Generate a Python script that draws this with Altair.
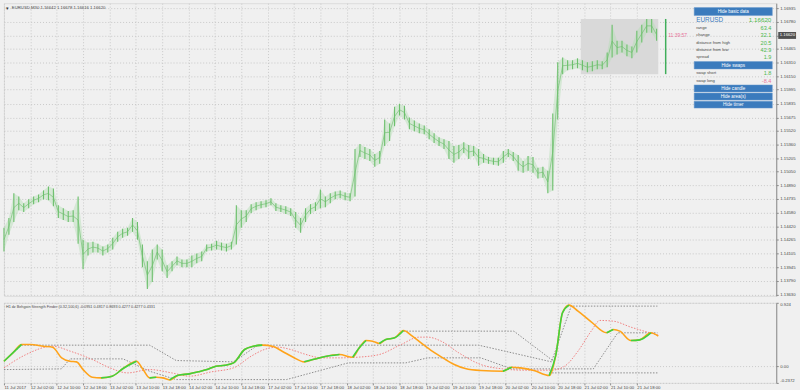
import altair as alt
import pandas as pd

# ---------------- price data (EURUSD M30, every 3rd bar) ----------------
bar_index = list(range(0, 397, 3))
high = [
    1.14402, 1.14516, 1.14800, 1.14765, 1.14686, 1.14731, 1.14765, 1.14788, 1.14834, 1.14879,
    1.14856, 1.14663, 1.14629, 1.14595, 1.14606, 1.14765, 1.14266, 1.14232, 1.14243, 1.14220,
    1.14186, 1.14209, 1.14288, 1.14356, 1.14391, 1.14402, 1.14516, 1.14470, 1.14209, 1.14016,
    1.14152, 1.14209, 1.14152, 1.13970, 1.14016, 1.14073, 1.14038, 1.14038, 1.14084, 1.14107,
    1.14129, 1.14209, 1.14220, 1.14254, 1.14232, 1.14220, 1.14243, 1.14663, 1.14606, 1.14606,
    1.14675, 1.14697, 1.14709, 1.14720, 1.14743, 1.14686, 1.14663, 1.14652, 1.14629, 1.14584,
    1.14516, 1.14629, 1.14675, 1.14697, 1.14845, 1.14765, 1.14800, 1.14822, 1.14834, 1.14811,
    1.14800, 1.15311, 1.15368, 1.15333, 1.15311, 1.15254, 1.15288, 1.15652, 1.15606, 1.15799,
    1.15833, 1.15811, 1.15674, 1.15640, 1.15606, 1.15583, 1.15538, 1.15493, 1.15447, 1.15424,
    1.15402, 1.15345, 1.15356, 1.15390, 1.15356, 1.15345, 1.15311, 1.15254, 1.15220, 1.15209,
    1.15209, 1.15288, 1.15311, 1.15277, 1.15243, 1.15174, 1.15231, 1.15220, 1.15095, 1.15106,
    1.15061, 1.15720, 1.16310, 1.16367, 1.16333, 1.16333, 1.16356, 1.16333, 1.16310, 1.16322,
    1.16333, 1.16322, 1.16424, 1.16742, 1.16560, 1.16560, 1.16515, 1.16492, 1.16674, 1.16742,
    1.16810, 1.16810, 1.16697]
low = [
    1.14129, 1.14322, 1.14470, 1.14606, 1.14584, 1.14629, 1.14675, 1.14697, 1.14731, 1.14720,
    1.14652, 1.14516, 1.14493, 1.14470, 1.14470, 1.14220, 1.13925, 1.14084, 1.14118, 1.14118,
    1.14084, 1.14118, 1.14152, 1.14243, 1.14288, 1.14311, 1.14356, 1.14266, 1.13948, 1.13698,
    1.13777, 1.14038, 1.13902, 1.13823, 1.13902, 1.13970, 1.13948, 1.13948, 1.13948, 1.13993,
    1.14016, 1.14129, 1.14141, 1.14152, 1.14141, 1.14129, 1.14152, 1.14209, 1.14402, 1.14470,
    1.14572, 1.14606, 1.14629, 1.14641, 1.14663, 1.14595, 1.14584, 1.14561, 1.14538, 1.14402,
    1.14345, 1.14470, 1.14561, 1.14595, 1.14629, 1.14641, 1.14686, 1.14731, 1.14743, 1.14720,
    1.14709, 1.14765, 1.15220, 1.15197, 1.15174, 1.15106, 1.15140, 1.15345, 1.15402, 1.15572,
    1.15697, 1.15652, 1.15538, 1.15515, 1.15493, 1.15481, 1.15424, 1.15379, 1.15345, 1.15311,
    1.15197, 1.15152, 1.15197, 1.15265, 1.15197, 1.15231, 1.15118, 1.15152, 1.15140, 1.15129,
    1.15118, 1.15152, 1.15220, 1.15174, 1.15061, 1.15038, 1.15061, 1.15038, 1.14970, 1.14981,
    1.14800, 1.14834, 1.15652, 1.16174, 1.16220, 1.16231, 1.16242, 1.16220, 1.16197, 1.16208,
    1.16231, 1.16231, 1.16254, 1.16367, 1.16401, 1.16424, 1.16379, 1.16356, 1.16424, 1.16538,
    1.16651, 1.16651, 1.16560]

price_ticks = [1.16935, 1.16780, 1.16620, 1.16465, 1.16310, 1.16150, 1.15995, 1.15835,
               1.15675, 1.15520, 1.15360, 1.15205, 1.15050, 1.14890, 1.14735, 1.14580,
               1.14420, 1.14265, 1.14105, 1.13945, 1.13790, 1.13630]
current_price = [1.16620]

# highlighted area (box) and higher-timeframe candle
box_start, box_end = [350], [397]
box_top, box_bottom = [1.16810], [1.16174]
candle_bar, candle_hi, candle_lo = [401.5], [1.16810], [1.16174]
timer_bar, timer_text = [403], ["11:39:57"]

date_labels = ["11 Jul 2017", "12 Jul 02:00", "12 Jul 10:00", "12 Jul 18:00", "13 Jul 02:00",
               "13 Jul 10:00", "13 Jul 18:00", "14 Jul 02:00", "14 Jul 10:00", "14 Jul 18:00",
               "17 Jul 02:00", "17 Jul 10:00", "17 Jul 18:00", "18 Jul 02:00", "18 Jul 10:00",
               "18 Jul 18:00", "19 Jul 02:00", "19 Jul 10:00", "19 Jul 18:00", "20 Jul 02:00",
               "20 Jul 10:00", "20 Jul 18:00", "21 Jul 02:00", "21 Jul 10:00", "21 Jul 18:00"]
date_ticks = [16 * i for i in range(len(date_labels))]

# ---------------- indicator data ----------------
main_bar = [0, 5.4, 10.7, 16, 24, 29.5, 35, 40, 44, 48, 53.6, 59, 65.6, 72.3, 80.4, 84.4, 88.4,
            92.4, 96.4, 100.5, 105.8, 112.5, 117.9, 123.2, 128.6, 134, 139.3, 146, 151.3, 156.7,
            163.4, 168.8, 175.5, 182.2, 187.5, 192.9, 203.6, 211.6, 215.6, 219.7, 223.7, 227.7,
            231.7, 237.1, 242.4, 247.8, 253.1, 259.8, 267.9, 273.2, 279.9, 289.3, 302.7, 308.1,
            313.4, 321.5, 330.8, 334.9, 338.9, 342.9, 348.3, 356.3, 365.7, 369.7, 373.7, 380.4,
            385.7, 392.5, 397]
main_val = [0.077, 0.198, 0.319, 0.319, 0.295, 0.281, 0.126, 0.077, 0.068, -0.044, -0.155,
            -0.164, -0.140, -0.029, 0.077, -0.044, -0.164, -0.155, -0.164, -0.194, -0.126,
            -0.106, -0.077, -0.044, 0.005, 0.019, 0.053, 0.247, 0.295, 0.310, 0.290, 0.222,
            0.135, 0.068, 0.102, 0.135, 0.174, 0.135, 0.271, 0.377, 0.368, 0.334, 0.392, 0.416,
            0.522, 0.440, 0.343, 0.223, 0.102, 0.029, -0.029, -0.058, -0.068, -0.010, -0.019,
            -0.058, -0.131, 0.174, 0.779, 0.890, 0.803, 0.648, 0.489, 0.537, 0.513, 0.377,
            0.387, 0.489, 0.440]
sig_bar = [0, 13.4, 29.5, 40.2, 53.6, 64.3, 75, 88.4, 101.8, 112.5, 125.9, 139.3, 150, 158, 166,
           174, 182, 193, 203.6, 214.3, 227.7, 241, 251.8, 257.2, 265.2, 276, 289.3, 302.7, 316,
           332.2, 340.2, 348.3, 356.3, 361.6, 369.7, 380.4, 388.4, 397]
sig_val = [-0.019, 0.174, 0.295, 0.223, 0.102, -0.019, -0.092, -0.044, -0.092, -0.140, -0.077,
           -0.019, 0.150, 0.247, 0.281, 0.247, 0.184, 0.126, 0.126, 0.135, 0.174, 0.319, 0.426,
           0.426, 0.368, 0.198, 0.029, -0.034, -0.053, -0.053, 0.005, 0.223, 0.513, 0.668, 0.658,
           0.571, 0.513, 0.455]
band1_bar = [0, 10.7, 88.4, 104.5, 139.3, 154, 288, 332.2, 344.2, 396.5]
band1_val = [0.077, 0.310, 0.310, 0.087, 0.068, 0.310, 0.310, 0.068, 0.876, 0.876]
band2_bar = [0, 34.8, 40.2, 72.3, 88.4, 104.5, 171.4, 208.9, 243.8, 257.2, 289.3, 308.1, 357.6,
             372.4, 396.5]
band2_val = [-0.044, -0.034, 0.111, 0.111, -0.068, -0.189, -0.189, 0.053, 0.053, 0.126, 0.126,
             -0.034, -0.034, 0.489, 0.489]
band3_bar = [242.4, 309.4, 333.5]
band3_val = [0.513, 0.513, 0.077]
band4_bar = [330.8, 396.5]
band4_val = [-0.092, -0.092]
ind_ticks = [0.924, 0.0, -0.2372]

indicator_title = ("H1 dz Behgoin Strength Finder (0.32,100,6) -0.0951 0.4817 0.8693 "
                   "0.4277 0.4277 0.4331")
chart_title = "EURUSD,M30  1.16642 1.16678 1.16616 1.16620"

# ---------------- styling ----------------
FONT = "Liberation Sans"
BG = "#f0f0f0"
GRID = "#c8c8c8"
AXC = "#8a8a8a"
TXT = "#4a4a4a"
BAR_GREEN = "#6cbf6c"
VAL_GREEN = "#4cb84c"
BLUE = "#3b7bbd"
PINK = "#e8739a"
W, H1, H2 = 781, 296, 81

x_scale = alt.Scale(domain=[0, W / (80 / 48)], nice=False, zero=False)
py_scale = alt.Scale(domain=[1.13618, 1.16992], nice=False, zero=False)
iy_scale = alt.Scale(domain=[-0.2372, 0.924], nice=False, zero=False)

label_js = "[" + ",".join("'%s'" % s for s in date_labels) + "][round(datum.value/16)]"

x_top_axis = alt.Axis(values=date_ticks, labels=False, ticks=False, domain=False, grid=True,
                      gridDash=[1, 2], gridColor=GRID)
x_bot_axis = alt.Axis(values=date_ticks, labelExpr=label_js, labelAlign="left", labelFontSize=4.3,
                      labelColor=TXT, tickSize=2, tickColor=AXC, labelPadding=1, grid=True,
                      gridDash=[1, 2], gridColor=GRID, domain=False, labelOverlap=False,
                      labelFlush=False)
price_axis = alt.Axis(orient="right", values=price_ticks, labelExpr="format(datum.value, '.5f')",
                      grid=True, gridDash=[1, 2], gridColor=GRID, tickSize=2, tickColor=AXC,
                      labelFontSize=4.3, labelColor=TXT, domainColor=AXC, labelPadding=1.5)
ind_axis = alt.Axis(orient="right", values=ind_ticks,
                    labelExpr="datum.value == 0 ? '0.00' : (datum.value > 0 ? '0.924' : '-0.2372')",
                    grid=True, gridDash=[1, 2], gridColor=GRID, tickSize=2, tickColor=AXC,
                    labelFontSize=4.3, labelColor=TXT, domainColor=AXC, labelPadding=1.5,
                    labelFlush=True)

def xt(field):
    return alt.X(field, scale=x_scale, axis=x_top_axis, title=None)

def xb(field):
    return alt.X(field, scale=x_scale, axis=x_bot_axis, title=None)

def yp(field):
    return alt.Y(field, scale=py_scale, axis=price_axis, title=None)

def yi(field):
    return alt.Y(field, scale=iy_scale, axis=ind_axis, title=None)

dummy = pd.DataFrame({"d": [0]})

def label(text, x, y, size=4.3, color=TXT, align="left", weight="normal"):
    return alt.Chart(dummy).mark_text(text=text, align=align, baseline="middle", fontSize=size,
                                      color=color, font=FONT, fontWeight=weight).encode(
        x=alt.value(x), y=alt.value(y))

def button(text, y1, y2):
    r = alt.Chart(dummy).mark_rect(color=BLUE, stroke="#6a9ccf", strokeWidth=0.5).encode(
        x=alt.value(698), x2=alt.value(777), y=alt.value(y1), y2=alt.value(y2))
    t = label(text, 737.5, (y1 + y2) / 2 + 0.3, size=4.6, color="white", align="center")
    return [r, t]

# ---------------- top panel ----------------
price_df = pd.DataFrame({"bar": bar_index, "hi": high, "lo": low})
box_df = pd.DataFrame({"s": box_start, "e": box_end, "t": box_top, "b": box_bottom})
candle_df = pd.DataFrame({"bar": candle_bar, "hi": candle_hi, "lo": candle_lo})
timer_df = pd.DataFrame({"bar": timer_bar, "p": current_price, "t": timer_text})
cur_df = pd.DataFrame({"p": current_price, "t": ["%.5f" % current_price[0]]})

box = alt.Chart(box_df).mark_rect(color="#d9d9d9").encode(x=xt("s:Q"), x2="e:Q", y=yp("b:Q"), y2="t:Q")
band = alt.Chart(price_df).mark_area(color="#b3ddb3", opacity=0.45).encode(
    x=xt("bar:Q"), y=yp("lo:Q"), y2="hi:Q")
bars = alt.Chart(price_df).mark_rule(color=BAR_GREEN, strokeWidth=1.1).encode(
    x=xt("bar:Q"), y=yp("lo:Q"), y2="hi:Q")
mid = alt.Chart(price_df).transform_calculate(mid="(datum.hi + datum.lo) / 2").mark_line(
    color=BAR_GREEN, strokeWidth=0.8, opacity=0.8).encode(x=xt("bar:Q"), y=yp("mid:Q"))
candle = alt.Chart(candle_df).mark_rule(color="#3fae5a", strokeWidth=1.5).encode(
    x=xt("bar:Q"), y=yp("lo:Q"), y2="hi:Q")
timer = alt.Chart(timer_df).mark_text(align="left", baseline="middle", fontSize=5, color=PINK,
                                      font=FONT).encode(x=xt("bar:Q"), y=yp("p:Q"), text="t:N")
cur_rect = alt.Chart(cur_df).mark_rule(color="#505050", strokeWidth=7).encode(
    x=alt.value(783), x2=alt.value(801), y=yp("p:Q"))
cur_text = alt.Chart(cur_df).mark_text(align="left", baseline="middle", fontSize=4.3,
                                       color="white", font=FONT).encode(
    x=alt.value(784.5), y=yp("p:Q"), text="t:N")

panel = []
panel += button("Hide basic data", 4.5, 12.5)
panel.append(label("EURUSD", 700, 17, size=6.5, color=BLUE))
panel.append(label("1.16620", 776, 17, size=6.3, color=VAL_GREEN, align="right"))
rows = [("range", "63.4", 25), ("change", "32.1", 32.3), ("distance from high", "20.5", 40),
        ("distance from low", "42.9", 47.3), ("spread", "1.9", 54.3)]
for name, val, yy in rows:
    panel.append(label(name, 700, yy, size=4.2))
    panel.append(label(val, 776, yy, size=5.6, color=VAL_GREEN, align="right"))
panel += button("Hide swaps", 59, 66.5)
panel.append(label("swap short", 700, 70.7, size=4.2))
panel.append(label("1.8", 776, 70.7, size=5.6, color=VAL_GREEN, align="right"))
panel.append(label("swap long", 700, 78.3, size=4.2))
panel.append(label("-8.4", 776, 78.3, size=5.6, color=PINK, align="right"))
panel += button("Hide candle", 82.7, 89.7)
panel += button("Hide area(s)", 90.9, 97.9)
panel += button("Hide timer", 99.1, 106.1)

title_icon = label("\u25BE", 2, 5, size=5, color="#333")
title_text = label(chart_title, 8, 5, size=4.3)

top = alt.layer(box, band, bars, mid, candle, timer, cur_rect, cur_text, title_icon, title_text,
                *panel).properties(width=W, height=H1)

# ---------------- bottom panel ----------------
main_df = pd.DataFrame({"bar": main_bar, "val": main_val})
sig_df = pd.DataFrame({"bar": sig_bar, "val": sig_val})
band_rows = []
for sid, (bb, vv) in enumerate([(band1_bar, band1_val), (band2_bar, band2_val),
                                 (band3_bar, band3_val), (band4_bar, band4_val)]):
    for k, (b, v) in enumerate(zip(bb, vv)):
        band_rows.append({"seg": sid, "ord": k, "bar": b, "val": v})
band_df = pd.DataFrame(band_rows)

green_rows = []
run = -1
prev_up = False
for k in range(len(main_bar) - 1):
    up = main_val[k + 1] > main_val[k]
    if up:
        if not prev_up:
            run += 1
            green_rows.append({"run": run, "bar": main_bar[k], "val": main_val[k]})
        green_rows.append({"run": run, "bar": main_bar[k + 1], "val": main_val[k + 1]})
    prev_up = up
green_df = pd.DataFrame(green_rows)

bands = alt.Chart(band_df).mark_line(color="#8c8c8c", strokeWidth=1, strokeDash=[1.5, 1.5]).encode(
    x=xb("bar:Q"), y=yi("val:Q"), detail="seg:N", order="ord:Q")
signal = alt.Chart(sig_df).mark_line(color="#f08080", strokeWidth=1, strokeDash=[1.5, 1.5],
                                     interpolate="monotone").encode(x=xb("bar:Q"), y=yi("val:Q"))
main_orange = alt.Chart(main_df).mark_line(color="#ffa31a", strokeWidth=1.6,
                                           interpolate="monotone").encode(x=xb("bar:Q"), y=yi("val:Q"))
main_green = alt.Chart(green_df).mark_line(color="#3fd23f", strokeWidth=1.6,
                                           interpolate="monotone").encode(
    x=xb("bar:Q"), y=yi("val:Q"), detail="run:N")
ind_label = label(indicator_title, 2, 4.5, size=3.8)

bottom = alt.layer(bands, signal, main_orange, main_green, ind_label).properties(width=W, height=H2)

chart = alt.vconcat(top, bottom, spacing=3).properties(
    padding=0, background=BG
).configure_view(stroke=AXC, strokeWidth=1, fill=BG).configure(font=FONT)

chart.save("out.html", embed_options={"renderer": "svg", "actions": False})
